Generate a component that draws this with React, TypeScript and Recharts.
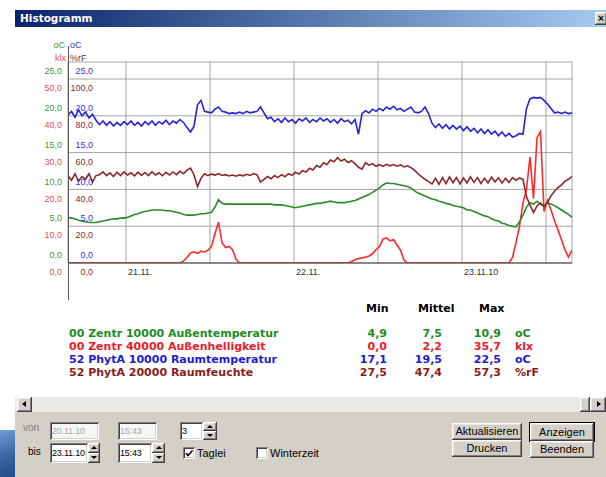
import React from 'react';
import { LineChart, Line, XAxis, YAxis, CartesianGrid } from 'recharts';

// time axis: hours since 20.11.10 15:43
const hours = [
  0,0.5,1,1.5,2,2.5,3,3.5,4,4.5,5,5.5,6,6.5,7,7.5,8,8.5,9,9.5,
  10,10.5,11,11.5,12,12.5,13,13.5,14,14.5,15,15.5,16,16.5,17,17.5,18,18.5,19,19.5,
  20,20.5,21,21.5,22,22.5,23,23.5,24,24.5,25,25.5,26,26.5,27,27.5,28,28.5,29,29.5,
  30,30.5,31,31.5,32,32.5,33,33.5,34,34.5,35,35.5,36,36.5,37,37.5,38,38.5,39,39.5,
  40,40.5,41,41.5,42,42.5,43,43.5,44,44.5,45,45.5,46,46.5,47,47.5,48,48.5,49,49.5,
  50,50.5,51,51.5,52,52.5,53,53.5,54,54.5,55,55.5,56,56.5,57,57.5,58,58.5,59,59.5,
  60,60.5,61,61.5,62,62.5,63,63.5,64,64.5,65,65.5,66,66.5,67,67.5,68,68.5,69,69.5,
  70,70.5,71,71.5,72,
];

// 00 Zentr 10000 Außentemperatur (oC)
const outsideTemp = [
  6.2,6.1,6.0,5.8,5.7,5.6,5.5,5.5,5.5,5.6,
  5.7,5.8,5.9,6.0,6.0,6.1,6.1,6.2,6.4,6.6,
  6.7,6.9,7.0,7.1,7.2,7.2,7.2,7.2,7.1,7.1,
  7.0,6.9,6.8,6.6,6.5,6.5,6.5,6.6,6.7,6.7,
  6.8,6.9,7.6,8.6,8.1,8.0,8.0,8.0,8.0,8.0,
  8.0,8.0,8.0,8.0,8.0,8.0,8.0,8.0,8.0,7.9,
  7.9,7.9,7.8,7.7,7.6,7.5,7.6,7.7,7.8,7.9,
  8.0,8.1,8.1,8.2,8.3,8.4,8.3,8.2,8.2,8.2,
  8.3,8.4,8.5,8.7,8.9,9.1,9.3,9.6,9.9,10.2,
  10.6,10.9,10.8,10.8,10.7,10.6,10.5,10.4,10.2,9.8,
  9.5,9.3,9.1,8.9,8.7,8.6,8.4,8.3,8.1,8.0,
  7.8,7.7,7.6,7.5,7.2,7.2,7.0,6.8,6.6,6.4,
  6.3,6.0,5.8,5.7,5.4,5.3,5.1,5.0,4.9,5.6,
  6.5,7.6,8.2,8.0,8.4,8.0,7.7,8.2,8.0,7.8,
  7.5,7.2,6.9,6.6,6.2,
];

// 00 Zentr 40000 Außenhelligkeit (klx)
const outsideLight = [
  0,0,0,0,0,0,0,0,0,0,
  0,0,0,0,0,0,0,0,0,0,
  0,0,0,0,0,0,0,0,0,0,
  0,0,0,0.5,1.5,2.7,3.0,2.6,3.2,3.0,
  3.5,4.5,8.0,11.1,5.5,4.2,4.5,3.6,1.0,0,
  0,0,0,0,0,0,0,0,0,0,
  0,0,0,0,0,0,0,0,0,0,
  0,0,0,0,0,0,0,0,0,0,
  0,0.4,0.9,1.2,1.4,1.6,1.9,2.5,3.6,4.5,
  6.5,6.8,6.0,6.4,4.9,3.5,0.8,0,0,0,
  0,0,0,0,0,0,0,0,0,0,
  0,0,0,0,0,0,0,0,0,0,
  0,0,0,0,0,0,0,1.5,5.5,10.0,
  16.3,20.0,28.8,17.5,34.0,35.7,14.0,17.0,14.4,11.5,
  9.0,6.3,3.5,1.6,3.5,
];

// 52 PhytA 10000 Raumtemperatur (oC)
const roomTemp = [
  20.1,20.6,19.8,20.8,20.0,20.5,19.7,20.2,19.4,
  18.8,19.3,18.7,19.2,18.6,19.1,18.7,19.2,18.8,19.3,18.7,19.1,18.6,19.2,18.8,19.3,18.7,19.2,18.9,19.4,18.8,19.3,19.0,19.5,19.1,18.4,17.8,
  18.6,21.5,22.1,20.6,20.5,20.4,20.9,21.2,20.6,20.5,20.3,20.4,20.3,20.5,20.3,20.6,20.4,20.5,20.6,21.2,20.4,19.6,
  19.8,19.2,19.6,19.1,19.7,19.2,19.5,19.0,19.6,19.3,19.7,19.1,19.5,19.2,19.7,19.3,19.6,19.1,19.5,19.0,19.6,19.2,19.4,18.9,19.5,
  17.5,20.3,20.7,20.4,20.9,20.6,21.0,20.7,21.2,20.9,21.3,20.8,21.0,20.6,20.9,21.2,20.5,20.4,20.6,21.2,20.3,19.0,
  18.4,18.9,18.3,18.8,18.2,18.7,18.2,18.6,18.0,18.5,17.9,18.3,17.7,18.2,17.6,18.1,17.5,17.9,17.3,17.8,17.2,17.6,17.1,
  17.3,17.6,17.5,21.0,22.3,22.5,22.4,22.5,22.1,21.6,21.0,20.4,20.5,20.3,20.5,20.3,20.4,
];

// 52 PhytA 20000 Raumfeuchte (%rF)
const roomHumidity = [
  47.5,45.0,48.5,44.5,47.0,45.5,48.5,44.0,47.5,
  48.0,49.5,47.5,49.0,47.0,49.3,47.5,49.5,47.8,49.0,47.3,49.4,47.6,49.2,47.5,49.6,47.8,49.0,47.4,49.3,47.8,49.5,48.0,49.8,48.5,50.5,
  51.6,48.0,41.5,46.0,48.5,47.5,48.3,47.8,48.6,47.6,48.0,47.3,47.8,47.2,47.9,47.4,48.2,47.6,48.6,48.0,44.0,45.5,47.0,
  45.8,47.5,46.4,48.0,46.9,48.5,47.6,49.3,48.3,50.2,49.4,51.5,50.6,53.0,52.0,54.5,53.5,56.0,
  55.0,57.2,55.4,56.4,54.6,55.6,54.0,52.0,51.0,54.5,53.2,54.0,52.6,53.4,52.5,53.6,52.8,53.5,52.6,53.3,52.2,52.8,51.8,50.5,48.5,47.0,45.5,44.2,43.0,
  46.0,42.8,46.4,43.2,46.8,43.6,46.5,43.0,46.2,43.5,46.8,43.8,46.4,43.2,46.0,43.6,46.6,44.0,46.3,43.4,46.0,43.8,46.4,
  45.0,46.2,45.5,36.0,31.5,27.5,31.0,32.5,30.5,33.0,36.5,39.0,41.0,42.5,44.5,45.5,47.0,
];

const tempTicks = [0, 5, 10, 15, 20, 25];
const dayTicks = [8.283, 20.283, 32.283, 44.283, 56.283, 68.283];
const dayTickLabels = ['21.11.', '', '22.11.', '', '23.11.10', ''];

const legendNames = [
  '00 Zentr 10000 Außentemperatur',
  '00 Zentr 40000 Außenhelligkeit',
  '52 PhytA 10000 Raumtemperatur',
  '52 PhytA 20000 Raumfeuchte',
];
const legendMin = ['4,9', '0,0', '17,1', '27,5'];
const legendMean = ['7,5', '2,2', '19,5', '47,4'];
const legendMax = ['10,9', '35,7', '22,5', '57,3'];
const legendUnits = ['oC', 'klx', 'oC', '%rF'];

const TEXT_COLORS = ['#1e8c1e', '#e8202a', '#1c1cd0', '#8a1c1c'];
const LINE_GREEN = '#2a8a2a';
const LINE_RED = '#ff2a2a';
const LINE_BLUE = '#2424d8';
const LINE_BROWN = '#8b2828';
const AX_GREEN = '#3c9a3c';
const AX_RED = '#e85050';
const AX_BLUE = '#3535d0';
const AX_BROWN = '#7a3030';

const C_TOP = 27.31;
const K_TOP = 54.62;
const R_TOP = 109.24;

const data = hours.map((h, i) => ({
  h,
  green: outsideTemp[i],
  red: outsideLight[i],
  blue: roomTemp[i],
  brown: roomHumidity[i],
}));

const AXFONT = "'Liberation Sans', Arial, sans-serif";
const fmt = (n: number) => n.toFixed(1).replace('.', ',');

function TempTick(props: any) {
  const { x, y, payload } = props;
  const v = payload.value as number;
  return (
    <g fontFamily={AXFONT} fontSize={9}>
      <text x={x - 6} y={y - 8} dy="0.35em" textAnchor="end" fill={AX_GREEN}>{fmt(v)}</text>
      <text x={x + 25} y={y - 8} dy="0.35em" textAnchor="end" fill={AX_BLUE}>{fmt(v)}</text>
      <text x={x - 6} y={y + 9} dy="0.35em" textAnchor="end" fill={AX_RED}>{fmt((v * K_TOP) / C_TOP)}</text>
      <text x={x + 25} y={y + 9} dy="0.35em" textAnchor="end" fill={AX_BROWN}>{fmt((v * R_TOP) / C_TOP)}</text>
    </g>
  );
}

function DayTick(props: any) {
  const { x, y, payload } = props;
  const idx = dayTicks.indexOf(payload.value);
  const label = idx >= 0 ? dayTickLabels[idx] : '';
  return (
    <text x={x + 2} y={y + 9} dy="0.35em" textAnchor="start" fontFamily={AXFONT} fontSize={9} fill="#333">
      {label}
    </text>
  );
}

const UI = "'Liberation Sans', Arial, sans-serif";
const LEG = "'DejaVu Sans', Verdana, sans-serif";

function Txt(p: { x: number; y: number; color?: string; font?: string; size?: number; bold?: boolean; right?: boolean; children: any }) {
  const style: any = {
    position: 'absolute',
    top: p.y - 7,
    lineHeight: '14px',
    height: 14,
    whiteSpace: 'nowrap',
    color: p.color || '#000',
    fontFamily: p.font || UI,
    fontSize: p.size || 11,
    fontWeight: p.bold ? 'bold' : 'normal',
  };
  if (p.right) style.right = 606 - p.x;
  else style.left = p.x;
  return <div style={style}>{p.children}</div>;
}

const raised = 'inset -1px -1px 0 #404040, inset 1px 1px 0 #ffffff, inset -2px -2px 0 #808080, inset 2px 2px 0 #e8e6e2';
const sunken = 'inset 1px 1px 0 #808080, inset -1px -1px 0 #ffffff, inset 2px 2px 0 #404040, inset -2px -2px 0 #d4d0c8';

function Box(p: { x: number; y: number; w: number; h: number; text: string; disabled?: boolean }) {
  return (
    <div style={{
      position: 'absolute', left: p.x, top: p.y, width: p.w, height: p.h,
      background: p.disabled ? '#f6f6f6' : '#ffffff', boxShadow: sunken,
      fontFamily: UI, fontSize: 9, lineHeight: p.h + 'px', color: p.disabled ? '#a8a8a8' : '#000',
      paddingLeft: 2, boxSizing: 'border-box', whiteSpace: 'nowrap', letterSpacing: -0.2,
    }}>{p.text}</div>
  );
}

function Spin(p: { x: number; y: number; w: number; h: number }) {
  const half = Math.floor(p.h / 2);
  const tri = (up: boolean) => (
    <div style={{
      position: 'absolute', left: '50%', top: '50%', width: 0, height: 0, marginLeft: -3, marginTop: -2,
      borderLeft: '3px solid transparent', borderRight: '3px solid transparent',
      borderBottom: up ? '3px solid #000' : 'none', borderTop: up ? 'none' : '3px solid #000',
    }} />
  );
  return (
    <div style={{ position: 'absolute', left: p.x, top: p.y, width: p.w, height: p.h }}>
      <div style={{ position: 'absolute', left: 0, top: 0, width: p.w, height: half, background: '#d4d0c8', boxShadow: raised }}>{tri(true)}</div>
      <div style={{ position: 'absolute', left: 0, top: half, width: p.w, height: p.h - half, background: '#d4d0c8', boxShadow: raised }}>{tri(false)}</div>
    </div>
  );
}

function Btn(p: { x: number; y: number; w: number; h: number; text: string; def?: boolean }) {
  return (
    <div style={{
      position: 'absolute', left: p.x, top: p.y, width: p.w, height: p.h, background: '#d4d0c8',
      boxShadow: p.def ? '0 0 0 1px #000, ' + raised : raised,
      fontFamily: UI, fontSize: 11, lineHeight: p.h + 'px', textAlign: 'center', color: '#000',
    }}>{p.text}</div>
  );
}

function Check(p: { x: number; y: number; checked?: boolean }) {
  return (
    <div style={{ position: 'absolute', left: p.x, top: p.y, width: 12, height: 12, background: '#fff', boxShadow: sunken }}>
      {p.checked ? (
        <svg width={12} height={12} style={{ position: 'absolute', left: 0, top: 0 }}>
          <path d="M3 6 L5 8.5 L9.5 3.5" stroke="#000" strokeWidth={1.6} fill="none" />
        </svg>
      ) : null}
    </div>
  );
}

export default function App() {
  return (
    <div style={{ position: 'absolute', left: 0, top: 0, width: 606, height: 477, background: '#fff', overflow: 'hidden' }}>
      <div style={{ position: 'absolute', left: 0, top: 0 }}>
        <LineChart width={606} height={300} data={data} margin={{ top: 62, right: 34, bottom: 0, left: 38 }}>
          <CartesianGrid yAxisId="c" stroke="#a4a4a4" strokeWidth={1} />
          <XAxis
            dataKey="h" type="number" domain={[0, 72]} ticks={dayTicks} interval={0}
            height={37} tickSize={0} tickMargin={0} tickLine={false}
            axisLine={{ stroke: '#404040' }} tick={<DayTick />} allowDataOverflow
          />
          <YAxis
            yAxisId="c" domain={[0, C_TOP]} ticks={tempTicks} interval={0} width={30}
            tickSize={0} tickMargin={0} tickLine={false} axisLine={false} tick={<TempTick />} allowDataOverflow
          />
          <YAxis yAxisId="k" domain={[0, K_TOP]} hide allowDataOverflow />
          <YAxis yAxisId="r" domain={[0, R_TOP]} hide allowDataOverflow />
          <Line yAxisId="k" dataKey="red" stroke={LINE_RED} strokeWidth={1.6} dot={false} isAnimationActive={false} />
          <Line yAxisId="c" dataKey="green" stroke={LINE_GREEN} strokeWidth={1.6} dot={false} isAnimationActive={false} />
          <Line yAxisId="r" dataKey="brown" stroke={LINE_BROWN} strokeWidth={1.6} dot={false} isAnimationActive={false} />
          <Line yAxisId="c" dataKey="blue" stroke={LINE_BLUE} strokeWidth={1.6} dot={false} isAnimationActive={false} />
        </LineChart>
      </div>

      {/* vertical axis line */}
      <div style={{ position: 'absolute', left: 68, top: 46, width: 1, height: 254, background: '#555' }} />

      {/* unit header */}
      <Txt x={65} y={45} right color={AX_GREEN} size={9}>oC</Txt>
      <Txt x={70} y={45} color={AX_BLUE} size={9}>oC</Txt>
      <Txt x={66} y={58} right color={AX_RED} size={9}>klx</Txt>
      <Txt x={70} y={58} color={AX_BROWN} size={9}>%rF</Txt>

      {/* title bar */}
      <div style={{ position: 'absolute', left: 15, top: 10, width: 591, height: 17, background: 'linear-gradient(to right, #0a246a, #a6caf0)' }}>
        <div style={{ position: 'absolute', left: 5, top: 1, lineHeight: '15px', color: '#fff', fontFamily: LEG, fontWeight: 'bold', fontSize: 10.5 }}>Histogramm</div>
      </div>
      <div style={{ position: 'absolute', left: 595, top: 12, width: 12, height: 13, background: '#d4d0c8', boxShadow: raised, fontFamily: UI, fontWeight: 'bold', fontSize: 10, lineHeight: '13px', textAlign: 'center' }}>×</div>

      {/* legend table */}
      <Txt x={366} y={309} font={LEG} bold>Min</Txt>
      <Txt x={418} y={309} font={LEG} bold>Mittel</Txt>
      <Txt x={479} y={309} font={LEG} bold>Max</Txt>
      {legendNames.map((n, i) => (
        <React.Fragment key={n}>
          <Txt x={69} y={334 + i * 13} font={LEG} bold color={TEXT_COLORS[i]}>{n}</Txt>
          <Txt x={387} y={334 + i * 13} font={LEG} bold right color={TEXT_COLORS[i]}>{legendMin[i]}</Txt>
          <Txt x={442} y={334 + i * 13} font={LEG} bold right color={TEXT_COLORS[i]}>{legendMean[i]}</Txt>
          <Txt x={501} y={334 + i * 13} font={LEG} bold right color={TEXT_COLORS[i]}>{legendMax[i]}</Txt>
          <Txt x={515} y={334 + i * 13} font={LEG} bold color={TEXT_COLORS[i]}>{legendUnits[i]}</Txt>
        </React.Fragment>
      ))}

      {/* scrollbar */}
      <div style={{ position: 'absolute', left: 15, top: 397, width: 591, height: 15, background: '#ebe9e5' }} />
      <div style={{ position: 'absolute', left: 17, top: 397, width: 15, height: 15, background: '#d4d0c8', boxShadow: raised }}>
        <div style={{ position: 'absolute', left: 5, top: 4, width: 0, height: 0, borderTop: '3.5px solid transparent', borderBottom: '3.5px solid transparent', borderRight: '4px solid #000' }} />
      </div>
      <div style={{ position: 'absolute', left: 580, top: 397, width: 10, height: 15, background: '#d4d0c8', boxShadow: raised }} />
      <div style={{ position: 'absolute', left: 590, top: 397, width: 16, height: 15, background: '#d4d0c8', boxShadow: raised }}>
        <div style={{ position: 'absolute', left: 7, top: 4, width: 0, height: 0, borderTop: '3.5px solid transparent', borderBottom: '3.5px solid transparent', borderLeft: '4px solid #000' }} />
      </div>

      {/* control panel */}
      <div style={{ position: 'absolute', left: 15, top: 412, width: 591, height: 65, background: '#d4d0c8' }} />
      <div style={{ position: 'absolute', left: 0, top: 430, width: 15, height: 47, background: 'linear-gradient(160deg, #6f9fd6 0%, #3a6aa8 50%, #1f4a86 100%)' }} />

      <Txt x={23} y={428} color="#808080" size={10}>von</Txt>
      <Box x={50} y={422} w={49} h={18} text="20.11.10" disabled />
      <Box x={118} y={422} w={39} h={18} text="15:43" disabled />
      <Box x={180} y={422} w={23} h={18} text="3" />
      <Spin x={203} y={422} w={14} h={18} />

      <Txt x={28} y={452} size={10}>bis</Txt>
      <Box x={50} y={443} w={38} h={20} text="23.11.10" />
      <Spin x={88} y={443} w={12} h={20} />
      <Box x={118} y={443} w={34} h={20} text="15:43" />
      <Spin x={152} y={443} w={13} h={20} />

      <Check x={183} y={447} checked />
      <Txt x={197} y={453}>Taglei</Txt>
      <Check x={256} y={447} />
      <Txt x={270} y={453}>Winterzeit</Txt>

      <Btn x={452} y={423} w={70} h={17} text="Aktualisieren" />
      <Btn x={452} y={440} w={70} h={17} text="Drucken" />
      <Btn x={530} y={423} w={64} h={18} text="Anzeigen" def />
      <Btn x={530} y={441} w={64} h={17} text="Beenden" />
    </div>
  );
}
